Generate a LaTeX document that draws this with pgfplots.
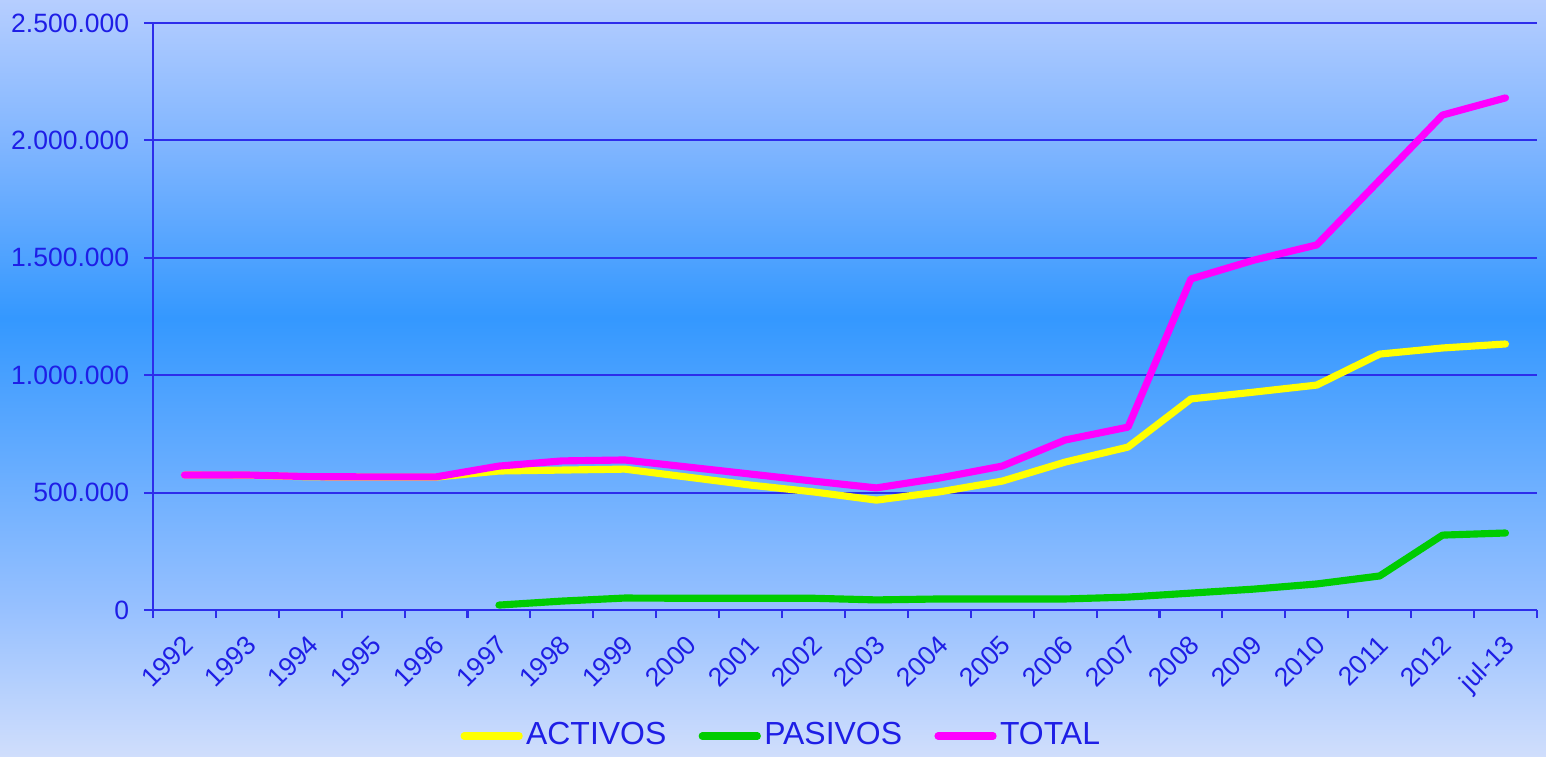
\documentclass[border=0pt]{standalone}
\usepackage{fontspec}
\setmainfont{Liberation Sans}
\usepackage{pgfplots}
\pgfplotsset{compat=1.18}

\definecolor{axblue}{RGB}{45,45,235}
\definecolor{labblue}{RGB}{30,30,230}
\definecolor{bgtop}{RGB}{182,206,255}
\definecolor{bgup}{RGB}{125,180,255}
\definecolor{bgmid}{RGB}{52,152,255}
\definecolor{bglow}{RGB}{150,192,255}
\definecolor{bgbot}{RGB}{208,222,252}
\definecolor{cact}{RGB}{255,255,0}
\definecolor{cpas}{RGB}{0,204,0}
\definecolor{ctot}{RGB}{255,0,255}

\pgfdeclareverticalshading{chartbg}{100bp}{color(0bp)=(bgbot); color(25bp)=(bgbot); color(35bp)=(bglow); color(54bp)=(bgmid); color(65bp)=(bgup); color(75bp)=(bgtop); color(100bp)=(bgtop)}

% x = category centre (0.5 = 1992 ... 21.5 = jul-13)
\pgfplotstableread{
x    y
0.5  575000
1.5  574000
2.5  567000
3.5  566000
4.5  566000
5.5  592000
6.5  596000
7.5  600000
8.5  566000
9.5  532000
10.5 503000
11.5 468000
12.5 503000
13.5 549000
14.5 630000
15.5 694000
16.5 899000
17.5 928000
18.5 958000
19.5 1090000
20.5 1116000
21.5 1133000
}\activos

\pgfplotstableread{
x    y
5.5  21000
6.5  38000
7.5  51000
8.5  50000
9.5  50000
10.5 50000
11.5 43000
12.5 47000
13.5 47000
14.5 47000
15.5 55000
16.5 72000
17.5 89000
18.5 111000
19.5 145000
20.5 319000
21.5 328000
}\pasivos

\pgfplotstableread{
x    y
0.5  575000
1.5  575000
2.5  568000
3.5  567000
4.5  567000
5.5  613000
6.5  635000
7.5  639000
8.5  609000
9.5  579000
10.5 549000
11.5 520000
12.5 562000
13.5 613000
14.5 724000
15.5 779000
16.5 1410000
17.5 1490000
18.5 1555000
19.5 1831000
20.5 2108000
21.5 2181000
}\total

\begin{document}
\begin{tikzpicture}
\shade[shading=chartbg] (0,0) rectangle (16cm,7.834cm);
\useasboundingbox (0,0) rectangle (16cm,7.834cm);
\begin{axis}[
  at={(1.583cm,1.521cm)}, anchor=south west,
  scale only axis, width=14.323cm, height=6.075cm,
  xmin=0, xmax=22, ymin=0, ymax=2500000,
  axis x line*=bottom, axis y line*=left,
  axis line style={axblue, line width=0.6pt, -},
  xtick={0.5,1.5,2.5,3.5,4.5,5.5,6.5,7.5,8.5,9.5,10.5,11.5,12.5,13.5,14.5,15.5,16.5,17.5,18.5,19.5,20.5,21.5},
  xticklabels={1992,1993,1994,1995,1996,1997,1998,1999,2000,2001,2002,2003,2004,2005,2006,2007,2008,2009,2010,2011,2012,jul-13},
  x tick style={draw=none},
  minor xtick={0,1,...,22},
  minor x tick style={draw=axblue, line width=0.6pt},
  minor tick length=0.085cm,
  ytick={0,500000,1000000,1500000,2000000,2500000},
  yticklabels={0,500.000,1.000.000,1.500.000,2.000.000,2.500.000},
  scaled y ticks=false,
  y tick style={draw=axblue, line width=0.6pt},
  major tick length=0.09cm,
  tick align=outside,
  ymajorgrids, grid style={axblue, line width=0.6pt},
  ticklabel style={font=\fontsize{7.8}{9}\selectfont, text=labblue},
  xticklabel style={xshift=-0.03cm, yshift=-0.145cm, rotate=45, anchor=north east, inner sep=0pt},
  yticklabel style={inner sep=0pt, xshift=-0.15cm},
  legend style={at={(0.4545,-0.2147)}, anchor=center, draw=none, fill=none,
    font=\fontsize{9.4}{11}\selectfont, text=labblue, legend columns=3,
    nodes={inner sep=1pt},
    /tikz/every even column/.append style={column sep=0.3cm}},
  legend image code/.code={\draw[#1] (0cm,0cm) -- (0.57cm,0cm);},
  every axis plot/.append style={line width=2.1pt, line cap=round, line join=round},
]
\addplot[cact] table[x=x, y=y] {\activos};
\addlegendentry{ACTIVOS}
\addplot[cpas] table[x=x, y=y] {\pasivos};
\addlegendentry{PASIVOS}
\addplot[ctot] table[x=x, y=y] {\total};
\addlegendentry{TOTAL}
\end{axis}
\end{tikzpicture}
\end{document}
